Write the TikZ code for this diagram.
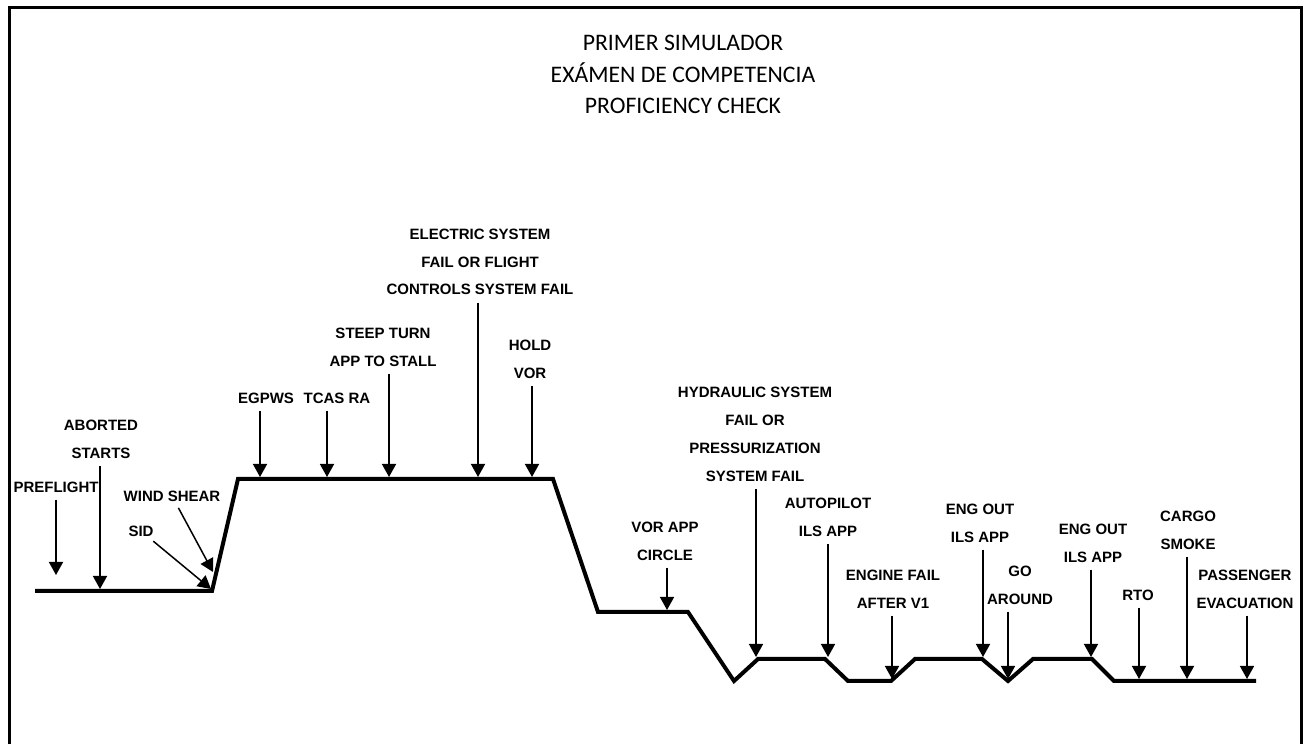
\documentclass[tikz,border=0pt]{standalone}
\usepackage{fontspec}
\setmainfont{Liberation Sans}
\newfontfamily\titlefont{Carlito}
\usetikzlibrary{arrows.meta}

\begin{document}
\begin{tikzpicture}[x=0.5pt,y=0.5pt,
  lbl/.style={font=\bfseries\fontsize{7.5}{13.9}\selectfont, align=center, inner sep=0pt},
  evt/.style={-{Triangle[width=7pt,length=6.5pt]}, line width=0.75pt, shorten <=3.5pt},
  prof/.style={line width=2pt, line join=miter}]
 \useasboundingbox (0,0) rectangle (1306,744);
 \draw [line width=1.5pt] (9,0) -- (9,736) -- (1301,736) -- (1301,0);

 \node (title) at (683,669.5) [font=\titlefont\fontsize{11.85}{15.75}\selectfont, align=center]
   {PRIMER SIMULADOR\\EXÁMEN DE COMPETENCIA\\PROFICIENCY CHECK};

 % flight profile
 \draw [prof] (35,153) -- (212,153) -- (238,265) -- (553,265) -- (598,132) -- (688,132)
   -- (734,63) -- (758,85) -- (825,85) -- (848,63) -- (891,63) -- (915,85) -- (982,85)
   -- (1008,63) -- (1033,85) -- (1092,85) -- (1114,63) -- (1256,63);

 % labels
 \node (pre) at (56,257) [lbl] {PREFLIGHT};
 \node (abo) at (101,304.5) [lbl] {ABORTED\\STARTS};
 \node (wsh) at (172,248) [lbl] {WIND SHEAR};
 \node (sid) at (141,213) [lbl] {SID};
 \node (egp) at (266,346) [lbl] {EGPWS};
 \node (tca) at (337,346) [lbl] {TCAS RA};
 \node (ste) at (383,397) [lbl] {STEEP TURN\\APP TO STALL};
 \node (ele) at (480,482) [lbl] {ELECTRIC SYSTEM\\FAIL OR FLIGHT\\CONTROLS SYSTEM FAIL};
 \node (hol) at (530,385) [lbl] {HOLD\\VOR};
 \node (vap) at (665,203) [lbl] {VOR APP\\CIRCLE};
 \node (hyd) at (755,309.5) [lbl] {HYDRAULIC SYSTEM\\FAIL OR\\PRESSURIZATION\\SYSTEM FAIL};
 \node (aut) at (828,226.5) [lbl] {AUTOPILOT\\ILS APP};
 \node (efa) at (893,155) [lbl] {ENGINE FAIL\\AFTER V1};
 \node (eoa) at (980,221) [lbl] {ENG OUT\\ILS APP};
 \node (goa) at (1020,159) [lbl] {GO\\AROUND};
 \node (eob) at (1093,201) [lbl] {ENG OUT\\ILS APP};
 \node (rto) at (1138,149) [lbl] {RTO};
 \node (car) at (1188,214) [lbl] {CARGO\\SMOKE};
 \node (pas) at (1245,155) [lbl] {PASSENGER\\EVACUATION};

 % arrow tips on the profile
 \coordinate (tPre) at (56,169);
 \coordinate (tAbo) at (100,155);
 \coordinate (tWsh) at (213,172);
 \coordinate (tSid) at (211,155);
 \coordinate (tEgp) at (260,267);
 \coordinate (tTca) at (327,267);
 \coordinate (tSte) at (389,267);
 \coordinate (tEle) at (478,267);
 \coordinate (tHol) at (532,267);
 \coordinate (tVap) at (667,134);
 \coordinate (tHyd) at (756,87);
 \coordinate (tAut) at (828,87);
 \coordinate (tEfa) at (892,65);
 \coordinate (tEoa) at (983,87);
 \coordinate (tGoa) at (1008,65);
 \coordinate (tEob) at (1091,87);
 \coordinate (tRto) at (1139,65);
 \coordinate (tCar) at (1187,65);
 \coordinate (tPas) at (1247,65);

 \draw [evt] (pre.south -| tPre) -- (tPre);
 \draw [evt] (abo.south -| tAbo) -- (tAbo);
 \draw [evt] (wsh) -- (tWsh);
 \draw [evt] (sid) -- (tSid);
 \draw [evt] (egp.south -| tEgp) -- (tEgp);
 \draw [evt] (tca.south -| tTca) -- (tTca);
 \draw [evt] (ste.south -| tSte) -- (tSte);
 \draw [evt] (ele.south -| tEle) -- (tEle);
 \draw [evt] (hol.south -| tHol) -- (tHol);
 \draw [evt] (vap.south -| tVap) -- (tVap);
 \draw [evt] (hyd.south -| tHyd) -- (tHyd);
 \draw [evt] (aut.south -| tAut) -- (tAut);
 \draw [evt] (efa.south -| tEfa) -- (tEfa);
 \draw [evt] (eoa.south -| tEoa) -- (tEoa);
 \draw [evt] (goa.south -| tGoa) -- (tGoa);
 \draw [evt] (eob.south -| tEob) -- (tEob);
 \draw [evt] (rto.south -| tRto) -- (tRto);
 \draw [evt] (car.south -| tCar) -- (tCar);
 \draw [evt] (pas.south -| tPas) -- (tPas);
\end{tikzpicture}
\end{document}
